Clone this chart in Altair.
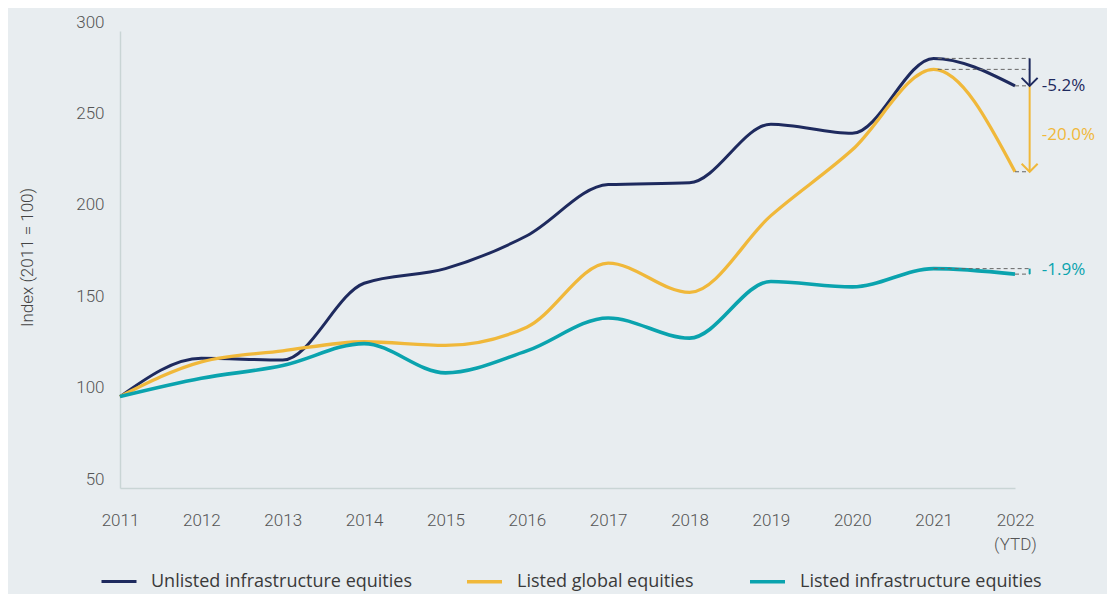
import altair as alt
import pandas as pd

years = list(range(2011, 2023))
series_names = ["Unlisted infrastructure equities", "Listed global equities", "Listed infrastructure equities"]
series_colors = ["#1e2a5e", "#f0b83a", "#0aa3ae"]
series_widths = [3, 3.6, 2.6]

unlisted = [100, 121, 120, 162, 170, 188, 216, 217, 249, 244, 285, 270]
listed_global = [100, 119, 125, 130, 128, 138, 173, 157, 199, 235, 279, 223]
listed_infra = [100, 110, 117, 129, 113, 125, 143, 132, 163, 160, 170, 167]

y_ticks = [50, 100, 150, 200, 250, 300]

rows = []
for name, vals in zip(series_names, [unlisted, listed_global, listed_infra]):
    for yr, v in zip(years, vals):
        rows.append({"year": yr, "value": v, "series": name})
df = pd.DataFrame(rows)

# annotation data
arrow_x = 2022.18
text_x = 2022.33
dash_df = pd.DataFrame([
    {"x": 2021.05, "x2": arrow_x, "y": unlisted[-2]},
    {"x": 2021.05, "x2": arrow_x, "y": listed_global[-2]},
    {"x": 2022.0, "x2": arrow_x, "y": unlisted[-1]},
    {"x": 2022.0, "x2": arrow_x, "y": listed_global[-1]},
    {"x": 2021.0, "x2": arrow_x, "y": listed_infra[-2]},
    {"x": 2022.0, "x2": arrow_x, "y": listed_infra[-1]},
])
arrow_df = pd.DataFrame([
    {"x": arrow_x, "y": unlisted[-2], "y2": unlisted[-1], "c": series_colors[0], "head": 1},
    {"x": arrow_x, "y": unlisted[-1], "y2": listed_global[-1], "c": series_colors[1], "head": 1},
    {"x": arrow_x, "y": listed_infra[-2], "y2": listed_infra[-1], "c": series_colors[2], "head": 0},
])
label_df = pd.DataFrame([
    {"x": text_x, "y": 270, "t": "-5.2%", "c": series_colors[0]},
    {"x": text_x, "y": 243, "t": "-20.0%", "c": series_colors[1]},
    {"x": text_x, "y": 169.5, "t": "-1.9%", "c": series_colors[2]},
])

FONT = "Roboto"
FONT2 = "Open Sans"
xscale = alt.Scale(domain=[2011, 2022], nice=False, zero=False)
yscale = alt.Scale(domain=[50, 300], nice=False, zero=False)

lines = alt.Chart(df).mark_line(interpolate="monotone").encode(
    x=alt.X("year:Q", scale=xscale,
            axis=alt.Axis(values=years, format="d", title=None, ticks=False, grid=False,
                          labelExpr="datum.value == 2022 ? ['2022', '(YTD)'] : datum.label",
                          labelPadding=24, labelLineHeight=24, labelFontSize=17,
                          labelColor="#555555", labelFont=FONT, labelFontWeight=300,
                          domainColor="#c9d5d5", domainWidth=1.5, labelFlush=False)),
    y=alt.Y("value:Q", scale=yscale,
            axis=alt.Axis(values=y_ticks, title="Index (2011 = 100)", ticks=False, grid=False,
                          labelPadding=16, labelFontSize=17, labelColor="#555555",
                          labelFont=FONT, labelFontWeight=300, labelOffset=-9,
                          labelBaseline="middle",
                          domainColor="#c9d5d5", domainWidth=1.5,
                          titleFont=FONT, titleFontWeight=300, titleFontSize=17,
                          titleColor="#444444", titleX=-93, titleY=226,
                          titleAngle=270, titleAlign="center", titleBaseline="middle")),
    color=alt.Color("series:N", scale=alt.Scale(domain=series_names, range=series_colors),
                    sort=series_names,
                    legend=alt.Legend(title=None, orient="none", direction="horizontal",
                                      legendX=-20, legendY=531, symbolType="stroke",
                                      symbolSize=1225, symbolStrokeWidth=3,
                                      labelFontSize=18, labelFont=FONT2,
                                      labelColor="#3a3a3a", labelOffset=13, labelLimit=400,
                                      columnPadding=48)),
    strokeWidth=alt.StrokeWidth("series:N", scale=alt.Scale(domain=series_names, range=series_widths),
                                legend=None),
    order=alt.Order("year:Q"),
)

dashes = alt.Chart(dash_df).mark_rule(strokeDash=[4, 3], strokeWidth=1, color="#666666").encode(
    x="x:Q", x2="x2:Q", y="y:Q"
)

arrows = alt.Chart(arrow_df).mark_rule(strokeWidth=2).encode(
    x="x:Q", y="y:Q", y2="y2:Q", color=alt.Color("c:N", scale=None)
)

heads = alt.Chart(arrow_df).transform_filter("datum.head == 1").mark_point(
    shape="M-1,-1L0,0L1,-1", filled=False, strokeWidth=2, size=256, opacity=1
).encode(
    x="x:Q", y="y2:Q", color=alt.Color("c:N", scale=None)
)

labels = alt.Chart(label_df).mark_text(align="left", baseline="middle", fontSize=17,
                                       font=FONT2).encode(
    x="x:Q", y="y:Q", text="t:N", color=alt.Color("c:N", scale=None)
)

chart = alt.layer(lines, dashes, arrows, heads, labels).properties(
    width=895, height=457,
    autosize=alt.AutoSizeParams(type="none"),
    padding={"left": 112, "top": 23, "right": 92, "bottom": 106},
).configure(background="#e8edf0").configure_view(stroke=None)

chart.save("out.html", embed_options={"renderer": "svg", "actions": False})
